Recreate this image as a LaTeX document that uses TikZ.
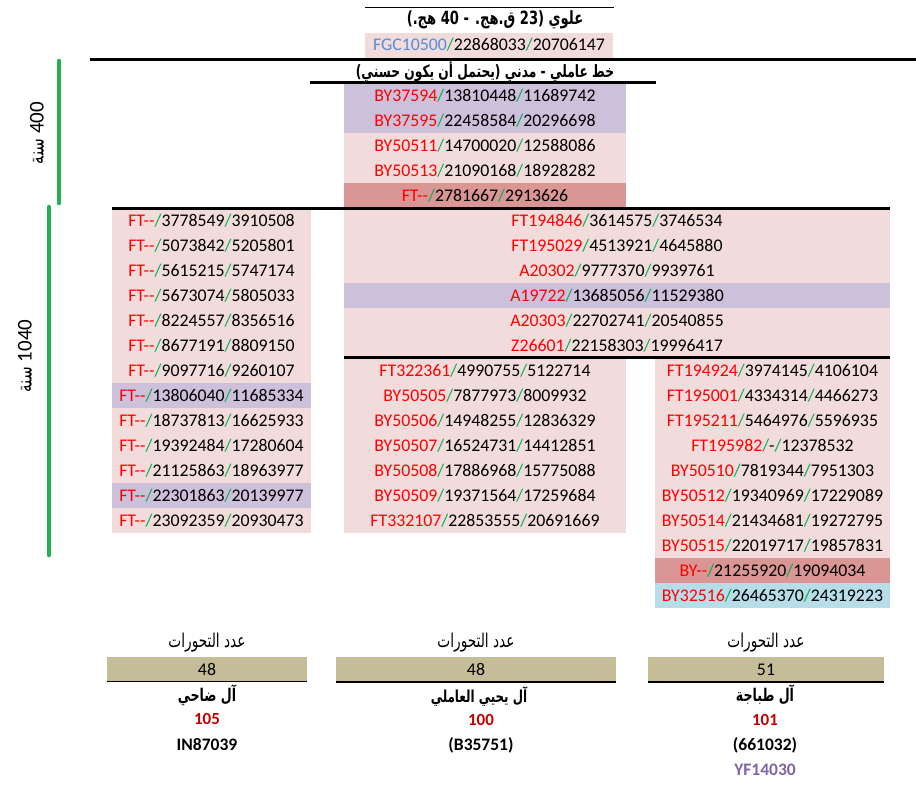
\documentclass[tikz,border=0pt]{standalone}
\usepackage{fontspec}
\setmainfont{Carlito}
\newfontfamily\arabicfont[Script=Arabic,FakeStretch=0.72]{DejaVu Sans}
\TeXXeTstate=1
\usetikzlibrary{positioning}

\definecolor{rowpink}{RGB}{242,220,219}
\definecolor{rowlilac}{RGB}{204,192,218}
\definecolor{rowrose}{RGB}{218,150,148}
\definecolor{rowblue}{RGB}{183,222,232}
\definecolor{rowtan}{RGB}{196,189,151}
\definecolor{snpred}{RGB}{255,0,0}
\definecolor{slashgreen}{RGB}{0,176,80}
\definecolor{countred}{RGB}{192,0,0}
\definecolor{fgcblue}{RGB}{85,142,213}
\definecolor{yfpurple}{RGB}{128,100,162}
\definecolor{spangreen}{RGB}{34,177,76}

\newcommand{\snp}[3]{\textcolor{snpred}{#1}\textcolor{slashgreen}{/}#2\textcolor{slashgreen}{/}#3}
\newcommand{\artext}[1]{{\arabicfont\beginR #1\endR}}

\tikzset{
	cell/.style={fill=#1, inner sep=0pt, minimum height=25pt},
	rule/.style={line width=3pt},
	span/.style={line width=4.5pt, spangreen, line cap=round},
	heading/.style={font=\arabicfont\bfseries\fontsize{#1}{20}\selectfont},
	countlabel/.style={font=\arabicfont\fontsize{19}{21}\selectfont},
	family/.style={font=\arabicfont\bfseries\fontsize{#1}{19}\selectfont},
	tally/.style={font=\bfseries\fontsize{17}{19}\selectfont, text=countred},
	tag/.style={font=\bfseries\fontsize{17.5}{19}\selectfont},
}

\begin{document}
\begin{tikzpicture}[x=1pt,y=-1pt,font=\fontsize{17.8}{20}\selectfont]
	\useasboundingbox (0,0) rectangle (916,788);

	% top of the tree
	\node[heading=18.2] (alawi) at (495,20) {\artext{علوي (23 ق.هج. - 40 هج.)}};
	\node[cell=rowpink, minimum width=248pt] (fgc) at (489,45)
		{\textcolor{fgcblue}{FGC10500}\textcolor{slashgreen}{/}22868033\textcolor{slashgreen}{/}20706147};
	\node[heading=17] (amili) at (485,71) {\artext{خط عاملي - مدني (يحتمل أن يكون حسني)}};

	\foreach \c/\s/\a/\b [count=\i] in {
		rowlilac/BY37594/13810448/11689742,
		rowlilac/BY37595/22458584/20296698,
		rowpink/BY50511/14700020/12588086,
		rowpink/BY50513/21090168/18928282,
		rowrose/FT-{}-/2781667/2913626}
		\node[cell=\c, minimum width=282pt] (trunk\i) at (485,70.5+25*\i) {\snp{\s}{\a}{\b}};

	% left branch
	\foreach \c/\a/\b [count=\i] in {
		rowpink/3778549/3910508, rowpink/5073842/5205801, rowpink/5615215/5747174,
		rowpink/5673074/5805033, rowpink/8224557/8356516, rowpink/8677191/8809150,
		rowpink/9097716/9260107, rowlilac/13806040/11685334, rowpink/18737813/16625933,
		rowpink/19392484/17280604, rowpink/21125863/18963977, rowlilac/22301863/20139977,
		rowpink/23092359/20930473}
		\node[cell=\c, minimum width=199pt] (left\i) at (211.5,195.5+25*\i) {\snp{FT-{}-}{\a}{\b}};

	% shared block
	\foreach \c/\s/\a/\b [count=\i] in {
		rowpink/FT194846/3614575/3746534,
		rowpink/FT195029/4513921/4645880,
		rowpink/A20302/9777370/9939761,
		rowlilac/A19722/13685056/11529380,
		rowpink/A20303/22702741/20540855,
		rowpink/Z26601/22158303/19996417}
		\node[cell=\c, minimum width=546pt] (shared\i) at (617,195.5+25*\i) {\snp{\s}{\a}{\b}};

	% middle branch
	\foreach \s/\a/\b [count=\i] in {
		FT322361/4990755/5122714, BY50505/7877973/8009932, BY50506/14948255/12836329,
		BY50507/16524731/14412851, BY50508/17886968/15775088, BY50509/19371564/17259684,
		FT332107/22853555/20691669}
		\node[cell=rowpink, minimum width=282pt] (mid\i) at (485,345.5+25*\i) {\snp{\s}{\a}{\b}};

	% right branch
	\foreach \c/\s/\a/\b [count=\i] in {
		rowpink/FT194924/3974145/4106104, rowpink/FT195001/4334314/4466273,
		rowpink/FT195211/5464976/5596935, rowpink/FT195982/-/12378532,
		rowpink/BY50510/7819344/7951303, rowpink/BY50512/19340969/17229089,
		rowpink/BY50514/21434681/19272795, rowpink/BY50515/22019717/19857831,
		rowrose/BY-{}-/21255920/19094034, rowblue/BY32516/26465370/24319223}
		\node[cell=\c, minimum width=235pt] (right\i) at (772.5,345.5+25*\i) {\snp{\s}{\a}{\b}};

	% rules between generations
	\draw[line width=1pt] (365,7) -- (614,7);
	\draw[rule] (90,59) -- (916,59);
	\draw[rule] (310,82) -- (656,82);
	\draw[rule] (112,208) -- (890,208);
	\draw[rule] (344,357.5) -- (890,357.5);

	% time spans
	\draw[span] (59,61) -- (59,203);
	\draw[span] (49,207) -- (49,555);
	\node[rotate=90, font=\fontsize{21}{24}\selectfont] (years400) at (37,133) {\artext{{\rmfamily 400} سنة}};
	\node[rotate=90, font=\fontsize{21}{24}\selectfont] (years1040) at (25,356) {\artext{{\rmfamily 1040} سنة}};

	% counts and families
	\node[cell=rowtan, minimum width=200pt] (count1) at (207,669) {48};
	\node[cell=rowtan, minimum width=280pt] (count2) at (476,669.5) {48};
	\node[cell=rowtan, minimum width=236pt] (count3) at (766,669.5) {51};
	\foreach \k in {1,2,3} {
		\draw[line width=1.5pt] (count\k.south west) -- (count\k.south east);
		\node[countlabel, above=1pt of count\k] (label\k) {\artext{عدد التحورات}};
	}
	\node[family=17.5] (dahi) at (207,695) {\artext{آل ضاحي}};
	\node[family=16.5] (yahya) at (479,697) {\artext{آل يحيي العاملي}};
	\node[family=17.5] (tabaja) at (765,695) {\artext{آل طباجة}};
	\node[tally] (n105) at (207,719) {105};
	\node[tally] (n100) at (481,720) {100};
	\node[tally] (n101) at (765,720) {101};
	\node[tag] (in87039) at (207,745) {IN87039};
	\node[tag] (b35751) at (481,745) {(B35751)};
	\node[tag] (t661032) at (765,745) {(661032)};
	\node[tag, text=yfpurple] (yf14030) at (765,770) {YF14030};
\end{tikzpicture}
\end{document}
